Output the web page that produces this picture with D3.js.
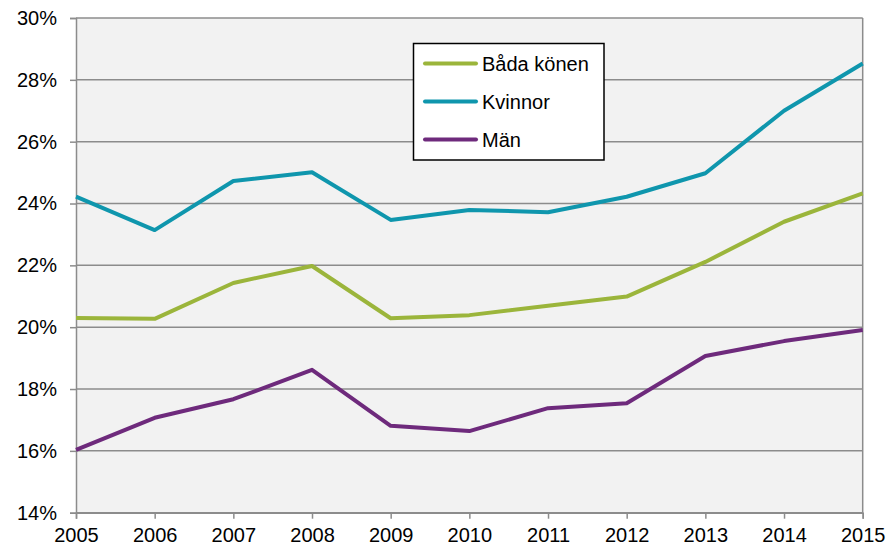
<!DOCTYPE html>
<html><head><meta charset="utf-8">
<script src="https://cdn.jsdelivr.net/npm/d3@7"></script>
<style>body{margin:0;background:#fff;} text{font-family:"Liberation Sans",Arial,sans-serif;}</style>
</head><body>
<svg id="c" width="891" height="547"></svg>
<script>
const years = [2005,2006,2007,2008,2009,2010,2011,2012,2013,2014,2015];
const seriesNames = ["Båda könen","Kvinnor","Män"];
const badaKonen = [20.30,20.27,21.43,21.98,20.29,20.39,20.69,20.99,22.11,23.41,24.33];
const kvinnor   = [24.22,23.14,24.73,25.01,23.47,23.79,23.72,24.22,24.98,27.00,28.53];
const man       = [16.03,17.07,17.67,18.62,16.81,16.64,17.38,17.54,19.07,19.55,19.91];
const yTicks = [14,16,18,20,22,24,26,28,30];
const colors = ["#9bb53b","#0f96ad","#6e2a7c"];
const values = [badaKonen,kvinnor,man];

const svg = d3.select("#c");
const L=76, R=862.7, T=18, B=512.7;
const x = d3.scaleLinear().domain([2005,2015]).range([L,R]);
const y = d3.scaleLinear().domain([14,30]).range([B,T]);

svg.append("rect").attr("x",L).attr("y",T).attr("width",R-L).attr("height",B-T).attr("fill","#f2f2f2");

// gridlines
svg.append("g").selectAll("line").data(yTicks).join("line")
  .attr("x1",L).attr("x2",R).attr("y1",d=>y(d)).attr("y2",d=>y(d))
  .attr("stroke","#8c8c8c").attr("stroke-width",1.5);

// y axis
const gy = svg.append("g").attr("transform",`translate(${L},0)`)
  .call(d3.axisLeft(y).tickValues(yTicks).tickSize(6).tickPadding(13).tickFormat(d=>d+"%"));
gy.select(".domain").attr("stroke","#8c8c8c").attr("stroke-width",1.5);
gy.selectAll(".tick line").attr("stroke","#8c8c8c").attr("stroke-width",1.5);
gy.selectAll("text").attr("font-size",20).attr("fill","#000").attr("font-family","Liberation Sans, Arial, sans-serif");

// right border
svg.append("line").attr("x1",R).attr("x2",R).attr("y1",T).attr("y2",B).attr("stroke","#8c8c8c").attr("stroke-width",1.5);

// x axis
const gx = svg.append("g").attr("transform",`translate(0,${B})`)
  .call(d3.axisBottom(x).tickValues(years).tickSize(6).tickPadding(9).tickFormat(d3.format("d")));
gx.select(".domain").attr("stroke","#8c8c8c").attr("stroke-width",1.5);
gx.selectAll(".tick line").attr("stroke","#8c8c8c").attr("stroke-width",1.5);
gx.selectAll("text").attr("font-size",20).attr("fill","#000").attr("font-family","Liberation Sans, Arial, sans-serif");

// lines
const line = d3.line().x((d,i)=>x(years[i])).y(d=>y(d));
values.forEach((v,k)=>{
  svg.append("path").datum(v).attr("d",line).attr("fill","none")
    .attr("stroke",colors[k]).attr("stroke-width",4).attr("stroke-linejoin","round");
});

// legend
const lg = svg.append("g");
lg.append("rect").attr("x",413.5).attr("y",43.5).attr("width",190.5).attr("height",116.5)
  .attr("fill","#fff").attr("stroke","#000").attr("stroke-width",1.5);
seriesNames.forEach((n,k)=>{
  const yy = 63.5 + k*38;
  lg.append("line").attr("x1",425).attr("x2",476).attr("y1",yy).attr("y2",yy)
    .attr("stroke",colors[k]).attr("stroke-width",4).attr("stroke-linecap","round");
  lg.append("text").attr("x",482).attr("y",yy+7).attr("font-size",20).attr("fill","#000").text(n);
});
</script>
</body></html>
